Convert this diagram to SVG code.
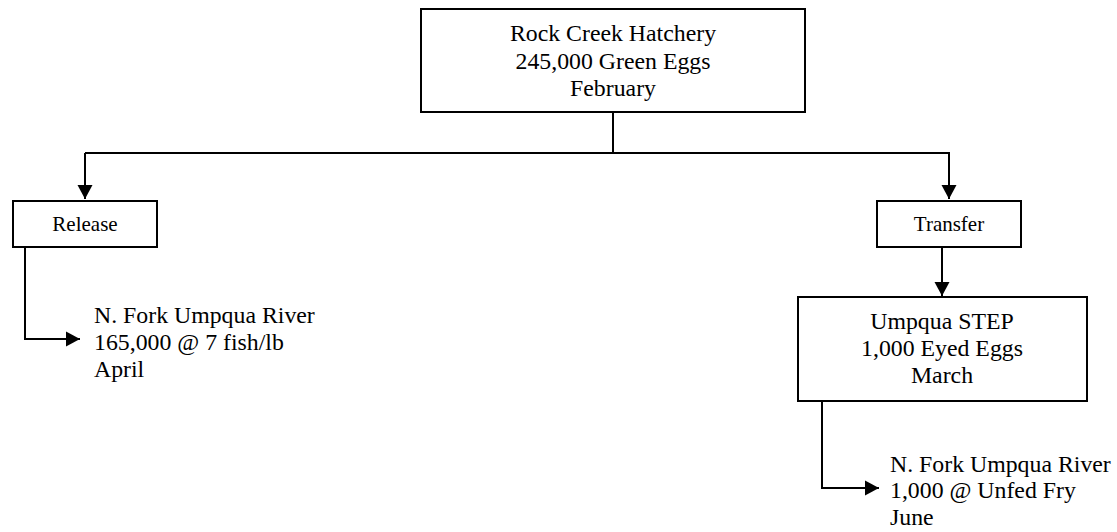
<svg xmlns="http://www.w3.org/2000/svg" width="1117" height="532" viewBox="0 0 1117 532">
<style>
.box{fill:#fff;stroke:#000;stroke-width:2}
.ln{fill:none;stroke:#000;stroke-width:2}
text{font-family:'Liberation Serif','Times New Roman',Times,serif;fill:#000}
.t{font-size:23.8px}
.ts{font-size:21px}
.c{text-anchor:middle}
</style>
<defs>
<marker id="ah" markerUnits="userSpaceOnUse" markerWidth="16" markerHeight="16" viewBox="0 0 16 16" refX="14" refY="8" orient="auto">
<path d="M0,0.5 L14,8 L0,15.5 Z" fill="#000"/>
</marker>
</defs>
<g id="connectors">
<path class="ln" d="M613,112 V153"/>
<path class="ln" d="M85,153 H949 V199" marker-end="url(#ah)"/>
<path class="ln" d="M85,153 V199" marker-end="url(#ah)"/>
<path class="ln" d="M25,247 V339 H80" marker-end="url(#ah)"/>
<path class="ln" d="M942,247 V296" marker-end="url(#ah)"/>
<path class="ln" d="M822,401 V488 H879" marker-end="url(#ah)"/>
</g>
<g id="node-rock-creek" font-family="Liberation Serif, serif">
<rect class="box" x="421" y="9" width="384" height="103"/>
<text class="t c" x="613" y="41">Rock Creek Hatchery</text>
<text class="t c" x="613" y="69">245,000 Green Eggs</text>
<text class="t c" x="613" y="96">February</text>
</g>
<g id="node-release" font-family="Liberation Serif, serif">
<rect class="box" x="13" y="201" width="144" height="46"/>
<text class="ts c" x="85" y="231">Release</text>
</g>
<g id="node-transfer" font-family="Liberation Serif, serif">
<rect class="box" x="877" y="201" width="144" height="46"/>
<text class="ts c" x="949" y="231">Transfer</text>
</g>
<g id="node-release-dest" font-family="Liberation Serif, serif">
<text class="t" x="94" y="323">N. Fork Umpqua River</text>
<text class="t" x="94" y="350">165,000 @ 7 fish/lb</text>
<text class="t" x="94" y="377">April</text>
</g>
<g id="node-umpqua-step" font-family="Liberation Serif, serif">
<rect class="box" x="798" y="297" width="289" height="104"/>
<text class="t c" x="942" y="329">Umpqua STEP</text>
<text class="t c" x="942" y="356">1,000 Eyed Eggs</text>
<text class="t c" x="942" y="383">March</text>
</g>
<g id="node-step-dest" font-family="Liberation Serif, serif">
<text class="t" x="890" y="472">N. Fork Umpqua River</text>
<text class="t" x="890" y="498">1,000 @ Unfed Fry</text>
<text class="t" x="890" y="525">June</text>
</g>
</svg>
